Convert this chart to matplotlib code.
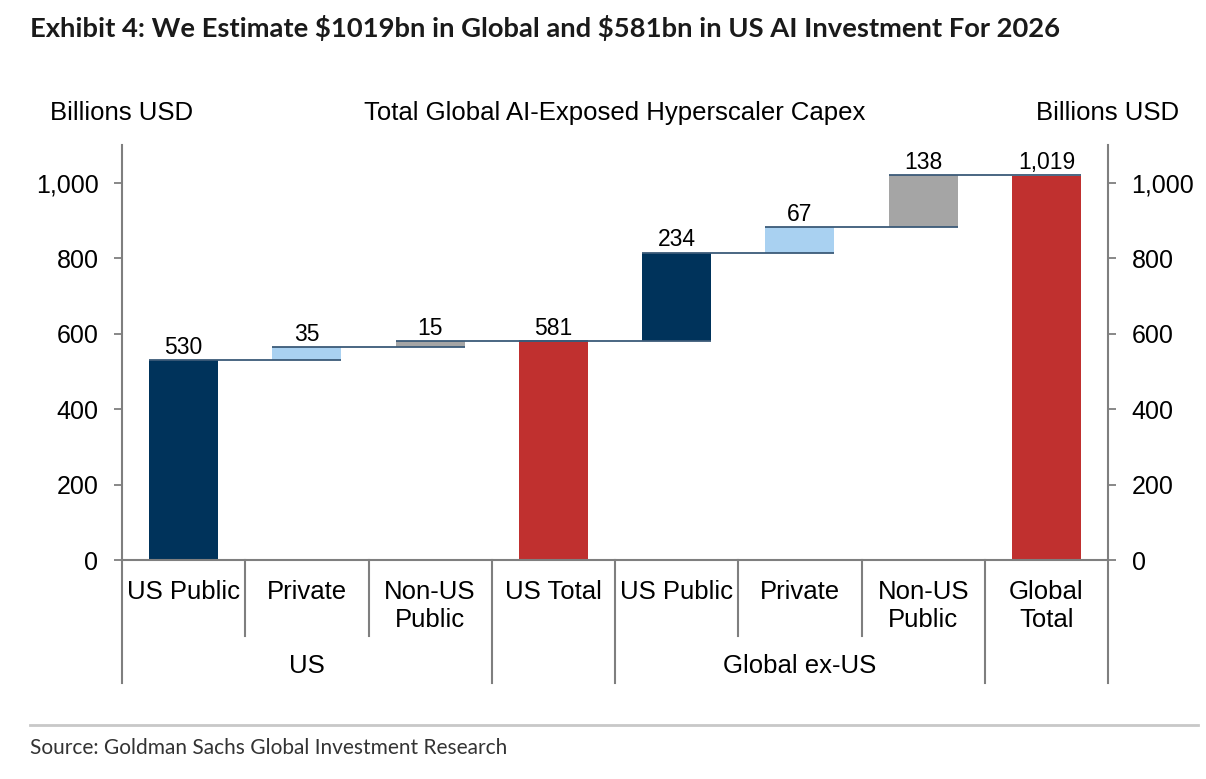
import matplotlib.pyplot as plt
import matplotlib.transforms as mtransforms
import numpy as np

plt.rcParams['font.family'] = ['Liberation Sans', 'DejaVu Sans']

# chart data
categories = ['US Public', 'Private', 'Non-US\nPublic', 'US Total',
              'US Public', 'Private', 'Non-US\nPublic', 'Global\nTotal']
values = [530, 35, 15, 581, 234, 67, 138, 1019]
is_total = [False, False, False, True, False, False, False, True]
groups = [('US', 0, 2), ('Global ex-US', 4, 6)]
yticks = [0, 200, 400, 600, 800, 1000]

navy = '#00335b'
light = '#a9d1f1'
grey = '#a5a5a5'
red = '#c0302f'
colours = [navy, light, grey, red, navy, light, grey, red]
axis_col = '#7f7f7f'
line_col = '#3b5a78'

# waterfall bottoms
bottoms = []
running = 0
for v, tot in zip(values, is_total):
    if tot:
        bottoms.append(0)
        running = v
    else:
        bottoms.append(running)
        running += v
tops = [b + v for b, v in zip(bottoms, values)]

fig = plt.figure(figsize=(12.06, 7.79), dpi=100)
ax = fig.add_axes([122 / 1206, 1 - 560 / 779, (1108 - 122) / 1206, (560 - 145.3) / 779])

x = np.arange(len(values))
w = 0.56
ax.bar(x, values, width=w, bottom=bottoms, color=colours, zorder=2)

# connector lines
for i in range(len(values) - 1):
    ax.plot([x[i] - w / 2, x[i + 1] + w / 2], [tops[i], tops[i]],
            color=line_col, lw=1.3, zorder=3, solid_capstyle='butt')

for xi, t, v in zip(x, tops, values):
    ax.annotate(f'{v:,}', (xi, t), xytext=(0, 1), textcoords='offset points',
                ha='center', va='bottom', fontsize=16.5)

ax.set_xlim(-0.5, len(values) - 0.5)
ax.set_ylim(0, 1100)
ax.set_xticks([])
ax.set_yticks(yticks)
ax.set_yticklabels([f'{t:,}' for t in yticks])
ax.tick_params(axis='y', which='both', left=True, right=True, labelleft=True,
               labelright=True, direction='out', length=6, width=1.3,
               color=axis_col, labelsize=18, pad=11)
for s in ['left', 'right', 'bottom']:
    ax.spines[s].set_color(axis_col)
    ax.spines[s].set_linewidth(1.5)
ax.spines['top'].set_visible(False)

# category labels and separators below the axis
trans = mtransforms.blended_transform_factory(ax.transData, ax.transAxes)
H = 560 - 145.3
for xi, lab in zip(x, categories):
    ax.text(xi, -20 / H, lab, transform=trans, ha='center', va='top',
            fontsize=18.5, linespacing=1.22)

long_b = [-0.5, 2.5, 3.5, 6.5, 7.5]
short_b = [0.5, 1.5, 4.5, 5.5]
for b in long_b:
    ax.plot([b, b], [0, -123 / H], transform=trans, color=axis_col, lw=1.5,
            clip_on=False)
for b in short_b:
    ax.plot([b, b], [0, -76 / H], transform=trans, color=axis_col, lw=1.5,
            clip_on=False)
for name, a, b in groups:
    ax.text((a + b) / 2, -106 / H, name, transform=trans, ha='center',
            va='center', fontsize=18.5)

# headers
ax.text(0, 447 / H, 'Billions USD', transform=ax.transAxes, ha='center',
        va='center', fontsize=18.5)
ax.text(1, 447 / H, 'Billions USD', transform=ax.transAxes, ha='center',
        va='center', fontsize=18.5)
ax.text(0.5, 447 / H, 'Total Global AI-Exposed Hyperscaler Capex',
        transform=ax.transAxes, ha='center', va='center', fontsize=18.5)

fig.text(30 / 1206, 1 - 28 / 779,
         r'Exhibit 4: We Estimate \$1019bn in Global and \$581bn in US AI Investment For 2026',
         ha='left', va='center', fontsize=19.7, fontweight='bold',
         family=['Lato', 'DejaVu Sans'], color='#1a1a1a')
fig.add_artist(plt.Line2D([30 / 1206, 1198 / 1206], [1 - 725 / 779, 1 - 725 / 779],
                          color='#c8c8c8', lw=2))
fig.text(30 / 1206, 1 - 748 / 779, 'Source: Goldman Sachs Global Investment Research',
         ha='left', va='center', fontsize=15, family=['Lato', 'DejaVu Sans'],
         color='#333333')

fig.savefig('out.png', dpi=100)
